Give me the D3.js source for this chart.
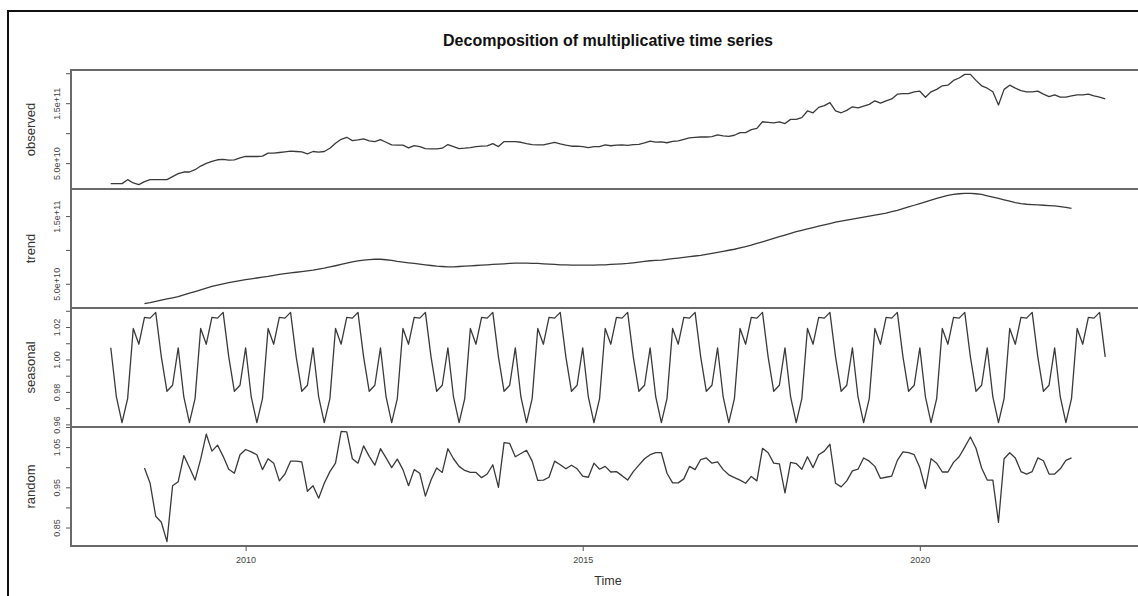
<!DOCTYPE html>
<html>
<head>
<meta charset="utf-8">
<script src="https://cdn.jsdelivr.net/npm/d3@7"></script>
<style>
  body { margin: 0; background: #fff; }
  text { font-family: "Liberation Sans", Arial, sans-serif; }
</style>
</head>
<body>
<svg id="chart" width="1138" height="596"></svg>
<script>
// monthly series, Jan 2008 .. Oct 2022 (values of observed / trend in units of 1e10)
const startYear = 2008;
const observed = [
  1.58, 1.58, 1.58, 2.24, 1.69, 1.42, 1.92, 2.24, 2.24, 2.24, 2.24, 2.74,
  3.24, 3.52, 3.52, 3.90, 4.51, 4.95, 5.28, 5.56, 5.61, 5.50, 5.56, 5.89,
  6.11, 6.11, 6.11, 6.16, 6.66, 6.66, 6.77, 6.88, 6.99, 6.94, 6.88, 6.55,
  6.94, 6.83, 6.94, 7.49, 8.31, 8.98, 9.31, 8.76, 8.87, 9.04, 8.70, 8.59,
  8.92, 8.48, 8.04, 7.99, 7.99, 7.54, 7.93, 7.76, 7.43, 7.38, 7.38, 7.49,
  8.10, 7.76, 7.43, 7.49, 7.60, 7.76, 7.82, 7.88, 8.26, 7.76, 8.59, 8.59,
  8.59, 8.48, 8.26, 8.10, 8.04, 8.04, 8.26, 8.48, 8.21, 7.99, 7.82, 7.82,
  7.76, 7.60, 7.76, 7.76, 8.04, 7.90, 8.02, 8.05, 7.97, 8.10, 8.12, 8.36,
  8.68, 8.52, 8.55, 8.40, 8.62, 8.70, 8.95, 9.20, 9.28, 9.36, 9.36, 9.43,
  9.70, 9.55, 9.45, 9.65, 10.1, 10.1, 10.6, 10.8, 11.9, 11.8, 11.7, 11.9,
  11.6, 12.3, 12.3, 12.6, 13.7, 13.4, 14.3, 14.6, 15.1, 13.7, 13.4, 13.8,
  14.4, 14.2, 14.5, 14.8, 15.4, 15.0, 15.4, 15.7, 16.5, 16.6, 16.6, 16.9,
  17.0, 16.0, 16.9, 17.3, 17.9, 18.0, 18.8, 19.2, 19.8, 19.8, 18.8, 17.9,
  17.5, 16.9, 14.7, 17.3, 18.0, 17.5, 17.1, 16.9, 16.9, 17.0, 16.5, 16.1,
  16.4, 16.0, 16.0, 16.2, 16.4, 16.4, 16.5, 16.2, 16.0, 15.7
];

// trend and random start at Jul 2008 (index 6)
const componentStart = 6;
const trend = [
  2.07, 2.22, 2.40, 2.58, 2.76, 2.93,
  3.10, 3.35, 3.60, 3.85, 4.10, 4.35, 4.60, 4.80, 5.00, 5.18, 5.33, 5.47,
  5.60, 5.72, 5.85, 5.98, 6.10, 6.25, 6.40, 6.50, 6.60, 6.70, 6.80, 6.90,
  7.00, 7.15, 7.30, 7.48, 7.66, 7.85, 8.05, 8.22, 8.38, 8.50, 8.58, 8.62,
  8.62, 8.55, 8.45, 8.30, 8.20, 8.10, 8.00, 7.90, 7.80, 7.70, 7.60, 7.55,
  7.50, 7.50, 7.55, 7.60, 7.65, 7.70, 7.75, 7.80, 7.85, 7.90, 7.95, 8.00,
  8.05, 8.05, 8.05, 8.00, 8.00, 7.95, 7.90, 7.85, 7.80, 7.80, 7.75, 7.75,
  7.75, 7.75, 7.75, 7.80, 7.80, 7.85, 7.90, 7.95, 8.00, 8.10, 8.20, 8.30,
  8.40, 8.45, 8.50, 8.60, 8.70, 8.80, 8.90, 9.00, 9.10, 9.20, 9.35, 9.50,
  9.65, 9.80, 9.95, 10.1, 10.3, 10.5, 10.7, 10.95, 11.2, 11.45, 11.7, 11.95,
  12.2, 12.45, 12.7, 12.9, 13.1, 13.3, 13.5, 13.7, 13.9, 14.1, 14.25, 14.4,
  14.55, 14.7, 14.85, 15.0, 15.15, 15.3, 15.45, 15.65, 15.85, 16.1, 16.35, 16.6,
  16.85, 17.1, 17.35, 17.6, 17.85, 18.05, 18.2, 18.3, 18.35, 18.35, 18.3, 18.2,
  18.0, 17.8, 17.6, 17.4, 17.2, 17.0, 16.85, 16.75, 16.7, 16.65, 16.6, 16.55,
  16.5, 16.4, 16.3, 16.15
];

// seasonal factor for Jan .. Dec
const seasonalFactors = [1.0072, 0.9769, 0.9611, 0.9759, 1.0191, 1.0094,
                         1.0259, 1.0255, 1.0290, 1.0016, 0.9804, 0.9841];

const random = [
  0.998, 0.960, 0.878, 0.863, 0.815, 0.954,
  0.964, 1.029, 0.999, 0.968, 1.020, 1.082, 1.040, 1.055, 1.027, 0.995, 0.985, 1.031,
  1.044, 1.038, 1.031, 0.994, 1.021, 1.010, 0.966, 0.983, 1.015, 1.015, 1.013, 0.940,
  0.954, 0.923, 0.960, 0.989, 1.010, 1.089, 1.088, 1.021, 1.010, 1.053, 1.027, 1.005,
  1.046, 1.023, 0.999, 1.020, 0.994, 0.954, 0.994, 0.985, 0.928, 0.968, 0.998, 0.987,
  1.046, 1.021, 1.002, 0.992, 0.987, 0.987, 0.974, 0.983, 1.006, 0.950, 1.061, 1.059,
  1.026, 1.034, 1.042, 1.015, 0.967, 0.968, 0.975, 1.015, 1.006, 0.996, 1.005, 0.996,
  0.978, 0.975, 1.010, 0.995, 1.002, 0.988, 0.989, 0.979, 0.968, 0.989, 1.005, 1.021,
  1.031, 1.036, 1.036, 0.985, 0.961, 0.961, 0.971, 1.002, 0.994, 1.019, 1.023, 1.010,
  1.013, 0.994, 0.981, 0.974, 0.968, 0.960, 0.977, 0.966, 1.047, 1.036, 1.010, 1.008,
  0.936, 1.012, 1.009, 0.995, 1.026, 0.999, 1.031, 1.040, 1.057, 0.960, 0.951, 0.966,
  0.991, 0.995, 1.023, 1.015, 1.002, 0.972, 0.975, 0.978, 1.017, 1.038, 1.036, 1.031,
  0.999, 0.947, 1.021, 1.010, 0.988, 0.988, 1.012, 1.026, 1.050, 1.075, 1.047, 0.998,
  0.968, 0.968, 0.863, 1.021, 1.036, 1.023, 0.989, 0.983, 0.989, 1.023, 1.016, 0.983,
  0.983, 0.996, 1.017, 1.023
];

const obsTicks = [5, 10, 15, 20];
const obsTickLabels = ["5.0e+10", "", "1.5e+11", ""];
const trendTicks = [5, 10, 15];
const trendTickLabels = ["5.0e+10", "", "1.5e+11"];
const seasTicks = [0.96, 0.97, 0.98, 0.99, 1.00, 1.01, 1.02, 1.03];
const seasTickLabels = ["0.96", "", "0.98", "", "1.00", "", "1.02", ""];
const randTicks = [0.85, 0.90, 0.95, 1.00, 1.05, 1.10];
const randTickLabels = ["0.85", "", "0.95", "", "1.05", ""];
const yearTicks = [2010, 2015, 2020];

const toPoints = (vals, offset) => vals.map((v, i) => ({t: startYear + (i + offset) / 12, v: v}));
const seasonal = observed.map((d, i) => seasonalFactors[i % 12]);

const panels = [
  {name: "observed", pts: toPoints(observed, 0), ticks: obsTicks, labels: obsTickLabels},
  {name: "trend", pts: toPoints(trend, componentStart), ticks: trendTicks, labels: trendTickLabels},
  {name: "seasonal", pts: toPoints(seasonal, 0), ticks: seasTicks, labels: seasTickLabels},
  {name: "random", pts: toPoints(random, componentStart), ticks: randTicks, labels: randTickLabels}
];

const plotLeft = 71, plotRight = 1145, plotTop = 70, panelH = 119;
const svg = d3.select("#chart");

// outer frame
svg.append("rect").attr("x", 8).attr("y", 11).attr("width", 1200).attr("height", 700)
  .attr("fill", "none").attr("stroke", "#111").attr("stroke-width", 2);

// R style 4% padding on the time range
const tEnd = startYear + (observed.length - 1) / 12;
const tPad = (tEnd - startYear) * 0.04;
const x = d3.scaleLinear().domain([startYear - tPad, tEnd + tPad]).range([plotLeft, plotRight]);

svg.append("text")
  .attr("x", (plotLeft + plotRight) / 2).attr("y", 46)
  .attr("text-anchor", "middle").attr("font-weight", "bold").attr("font-size", 16)
  .attr("fill", "#111")
  .text("Decomposition of multiplicative time series");

panels.forEach((p, k) => {
  const y0 = plotTop + k * panelH;
  const ext = d3.extent(p.pts, d => d.v);
  const pad = (ext[1] - ext[0]) * 0.04;
  const y = d3.scaleLinear().domain([ext[0] - pad, ext[1] + pad]).range([y0 + panelH, y0]);
  const g = svg.append("g");

  const line = d3.line().x(d => x(d.t)).y(d => y(d.v));
  g.append("path").datum(p.pts)
    .attr("d", line)
    .attr("fill", "none").attr("stroke", "#3a3a3a").attr("stroke-width", 1.3)
    .attr("stroke-linejoin", "round");

  const axis = d3.axisLeft(y).tickValues(p.ticks).tickSize(5).tickPadding(4)
    .tickFormat((d, i) => p.labels[i]);
  const ax = g.append("g").attr("transform", "translate(" + plotLeft + ",0)").call(axis);
  ax.select(".domain").remove();
  ax.selectAll(".tick line").attr("stroke", "#555");
  ax.selectAll(".tick text")
    .attr("transform", "rotate(-90)")
    .attr("x", 0).attr("y", -11).attr("dy", 0)
    .attr("text-anchor", "middle")
    .attr("font-size", 9).attr("fill", "#444")
    .attr("font-family", "Liberation Sans, Arial, sans-serif");

  g.append("text")
    .attr("transform", "translate(35," + (y0 + panelH / 2) + ") rotate(-90)")
    .attr("text-anchor", "middle").attr("font-size", 13).attr("fill", "#333")
    .text(p.name);

  g.append("rect")
    .attr("x", plotLeft).attr("y", y0).attr("width", plotRight - plotLeft).attr("height", panelH)
    .attr("fill", "none").attr("stroke", "#6a6a6a").attr("stroke-width", 2);
});

// time axis below the last panel
const plotBottom = plotTop + 4 * panelH;
const xa = svg.append("g").attr("transform", "translate(0," + plotBottom + ")")
  .call(d3.axisBottom(x).tickValues(yearTicks).tickFormat(d3.format("d")).tickSize(5).tickPadding(6));
xa.select(".domain").remove();
xa.selectAll(".tick line").attr("stroke", "#555");
xa.selectAll(".tick text").attr("font-size", 9).attr("fill", "#444")
  .attr("font-family", "Liberation Sans, Arial, sans-serif");

svg.append("text")
  .attr("x", (plotLeft + plotRight) / 2).attr("y", 585)
  .attr("text-anchor", "middle").attr("font-size", 12.5).attr("fill", "#333")
  .text("Time");
</script>
</body>
</html>
